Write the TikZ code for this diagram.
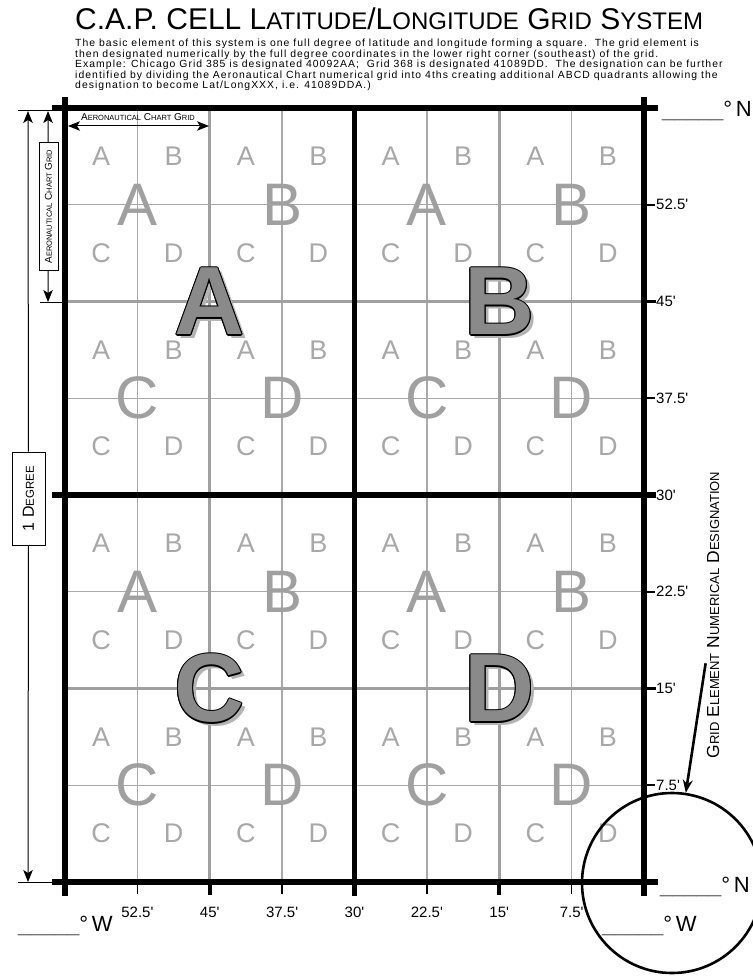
\documentclass[tikz,border=0pt]{standalone}
\usepackage{fontspec}
\setmainfont{Liberation Sans}
\newfontfamily\notefont[LetterSpace=10]{Liberation Sans}
\usetikzlibrary{arrows.meta}

\definecolor{gridgray}{RGB}{170,170,170}
\definecolor{majorgray}{RGB}{160,160,160}
\definecolor{lettergray}{RGB}{168,168,168}
\definecolor{quadgray}{RGB}{160,160,160}
\definecolor{cellfill}{RGB}{138,138,138}
\definecolor{cellshade}{RGB}{180,180,180}
\definecolor{blankgray}{RGB}{120,120,120}

% fake small caps, size taken from \scsize of the node font
\newcommand{\sck}[1]{{\fontsize{\scsize}{\scsize}\selectfont #1}}
\newcommand{\mnt}{\textquotesingle}
\newcommand{\blank}{{\color{blankgray}\_\_\_\_\_}}
% outlined letter with drop shadow
\newcommand{\cellmark}[1]{%
  \rlap{\smash{\hspace{4pt}\raisebox{-4pt}{\color{cellshade}#1}}}%
  \rlap{\smash{\hspace{-1.2pt}#1}}\rlap{\smash{\hspace{1.2pt}#1}}%
  \rlap{\smash{\raisebox{1.2pt}{#1}}}\rlap{\smash{\raisebox{-1.2pt}{#1}}}%
  \rlap{\smash{\hspace{-.85pt}\raisebox{.85pt}{#1}}}\rlap{\smash{\hspace{.85pt}\raisebox{.85pt}{#1}}}%
  \rlap{\smash{\hspace{-.85pt}\raisebox{-.85pt}{#1}}}\rlap{\smash{\hspace{.85pt}\raisebox{-.85pt}{#1}}}%
  {\color{cellfill}#1}}

\begin{document}
\begin{tikzpicture}[x=1pt,y=-1pt,
    grid_thin/.style={draw=gridgray,line width=1.3pt},
    grid_major/.style={draw=majorgray,line width=3pt},
    frame_line/.style={draw=black,line width=5.5pt},
    tick_thin/.style={draw=black,line width=1.6pt},
    tick_major/.style={draw=black,line width=3.6pt},
    dim_line/.style={draw=black,line width=1pt},
    dim_edge/.style={dim_line,-{Stealth[length=12pt,width=9.5pt,inset=3pt]}},
    dim_both/.style={dim_line,{Stealth[length=12pt,width=9.5pt,inset=3pt]}-{Stealth[length=12pt,width=9.5pt,inset=3pt]}},
    dim_box/.style={draw=black,line width=1pt,fill=white,inner sep=0pt,rotate=90},
    pointer_edge/.style={draw=black,line width=2.6pt,-{Stealth[length=13pt,width=10pt]}},
    mark_label/.style={inner sep=0pt,font=\fontsize{15}{15}\selectfont},
    coord_blank/.style={anchor=base west,inner sep=0pt,font=\fontsize{22}{22}\selectfont}]

\useasboundingbox (0,0) rectangle (752,976);

% heading
\node[anchor=base west,inner sep=0pt,font=\fontsize{30}{30}\selectfont\def\scsize{24}] (title) at (75,30)
    {C.A.P. CELL L\sck{ATITUDE}/L\sck{ONGITUDE} G\sck{RID} S\sck{YSTEM}};
\begin{scope}[every node/.style={anchor=base west,inner sep=0pt,font=\notefont\fontsize{10.4}{10.4}\selectfont}]
    \node (note1) at (75,47) {The basic element of this system is one full degree of latitude and longitude forming a square.\ \ The grid element is};
    \node (note2) at (75,57.5) {then designated numerically by the full degree coordinates in the lower right corner (southeast) of the grid.};
    \node (note3) at (75,68) {Example: Chicago Grid 385 is designated 40092AA;\ \ Grid 368 is designated 41089DD.\ \ The designation can be further};
    \node (note4) at (75,78.5) {identified by dividing the Aeronautical Chart numerical grid into 4ths creating additional ABCD quadrants allowing the};
    \node (note5) at (75,89) {designation to become Lat/LongXXX, i.e. 41089DDA.)};
\end{scope}

% the one degree cell, in eighths
\begin{scope}[shift={(65,108)},x=72.375pt,y=-96.75pt]
    \foreach \k in {1,3,5,7} {
        \draw[grid_thin] (\k,0) -- (\k,8);
        \draw[grid_thin] (0,\k) -- (8,\k);
        \draw[tick_thin] (\k,8) -- ++(0pt,-12pt);
        \draw[tick_thin] (8,\k) -- ++(11pt,0pt);
    }
    \foreach \k in {2,6} {
        \draw[grid_major] (\k,0) -- (\k,8);
        \draw[grid_major] (0,\k) -- (8,\k);
        \draw[tick_major] (\k,8) -- ++(0pt,-13pt);
        \draw[tick_major] (8,\k) -- ++(12pt,0pt);
    }
    \begin{scope}[every node/.style={text=lettergray,font=\fontsize{27}{27}\selectfont}]
    \foreach \i in {0,2,4,6} {
        \foreach \j in {0,2,4,6} {
            \node (sa\i\j) at (\i+.5,\j+.5) {A};
            \node (sb\i\j) at (\i+1.5,\j+.5) {B};
            \node (sc\i\j) at (\i+.5,\j+1.5) {C};
            \node (sd\i\j) at (\i+1.5,\j+1.5) {D};
        }
    }
    \end{scope}
    \begin{scope}[every node/.style={text=quadgray,font=\fontsize{60}{60}\selectfont}]
    \foreach \i in {0,4} {
        \foreach \j in {0,4} {
            \node (qa\i\j) at (\i+1,\j+1) {A};
            \node (qb\i\j) at (\i+3,\j+1) {B};
            \node (qc\i\j) at (\i+1,\j+3) {C};
            \node (qd\i\j) at (\i+3,\j+3) {D};
        }
    }
    \end{scope}
    \begin{scope}[every node/.style={inner sep=0pt,font=\fontsize{97}{97}\selectfont\bfseries}]
        \node (bigA) at (2,2) {\cellmark{A}};
        \node (bigB) at (6,2) {\cellmark{B}};
        \node (bigC) at (2,6) {\cellmark{C}};
        \node (bigD) at (6,6) {\cellmark{D}};
    \end{scope}
    \draw[frame_line] ([xshift=-13pt]0,0) -- ([xshift=14pt]8,0);
    \draw[frame_line] ([xshift=-13pt]0,8) -- ([xshift=14pt]8,8);
    \draw[frame_line] ([xshift=-13pt]0,4) -- ([xshift=12pt]8,4);
    \draw[frame_line] ([yshift=11pt]0,0) -- ([yshift=-14pt]0,8);
    \draw[frame_line] ([yshift=11pt]8,0) -- ([yshift=-14pt]8,8);
    \draw[frame_line] (4,0) -- ([yshift=-14pt]4,8);
    \foreach \k/\lab in {1/52.5,2/45,3/37.5,4/30,5/22.5,6/15,7/7.5} {
        \node[mark_label,anchor=west] (lat\k) at ([xshift=12pt]8,\k) {\lab\mnt};
        \node[mark_label,anchor=base] (lon\k) at ([yshift=-35pt]\k,8) {\lab\mnt};
    }
\end{scope}

% blanks for the degrees
\node[coord_blank] (northtop) at (662,117) {\blank°\,N};
\node[coord_blank] (northbot) at (660,892) {\blank°\,N};
\node[coord_blank] (westleft) at (18,931) {\blank°\,W};
\node[coord_blank] (westright) at (602,931) {\blank°\,W};

% dimensions
\draw[dim_line] (18,111) -- (62,111);
\draw[dim_line] (18,882) -- (52,882);
\draw[dim_line] (40,302) -- (62,302);
\coordinate (degtop) at (28,111);
\coordinate (degbot) at (28,882);
\coordinate (charttop) at (48,111);
\coordinate (chartbot) at (48,302);
\coordinate (chartleft) at (68,126);
\coordinate (chartright) at (209,126);
\node[dim_box,minimum width=93pt,minimum height=33pt,font=\fontsize{16}{16}\selectfont\def\scsize{11.5}] (degree) at (28.5,498.5) {1 D\sck{EGREE}};
\node[dim_box,minimum width=127pt,minimum height=19pt,font=\fontsize{10}{10}\selectfont\def\scsize{7.5}] (chartv) at (48.5,206.5) {A\sck{ERONAUTICAL} C\sck{HART} G\sck{RID}};
\node[inner sep=0pt,font=\fontsize{10}{10}\selectfont\def\scsize{7.5}] (charth) at (138,117) {A\sck{ERONAUTICAL} C\sck{HART} G\sck{RID}};
\path (degree) edge[dim_edge] (degtop);
\path (degree) edge[dim_edge] (degbot);
\path (chartv) edge[dim_edge] (charttop);
\path (chartv) edge[dim_edge] (chartbot);
\path (chartleft) edge[dim_both] (chartright);

% designation call-out
\node[draw,circle,line width=2.6pt,minimum size=180pt,inner sep=0pt] (ring) at (672,883) {};
\node[rotate=90,inner sep=1pt,font=\fontsize{17.5}{17.5}\selectfont\def\scsize{13}] (desig) at (713,615)
    {G\sck{RID} E\sck{LEMENT} N\sck{UMERICAL} D\sck{ESIGNATION}};
\path (desig) edge[pointer_edge] (ring);
\end{tikzpicture}
\end{document}
